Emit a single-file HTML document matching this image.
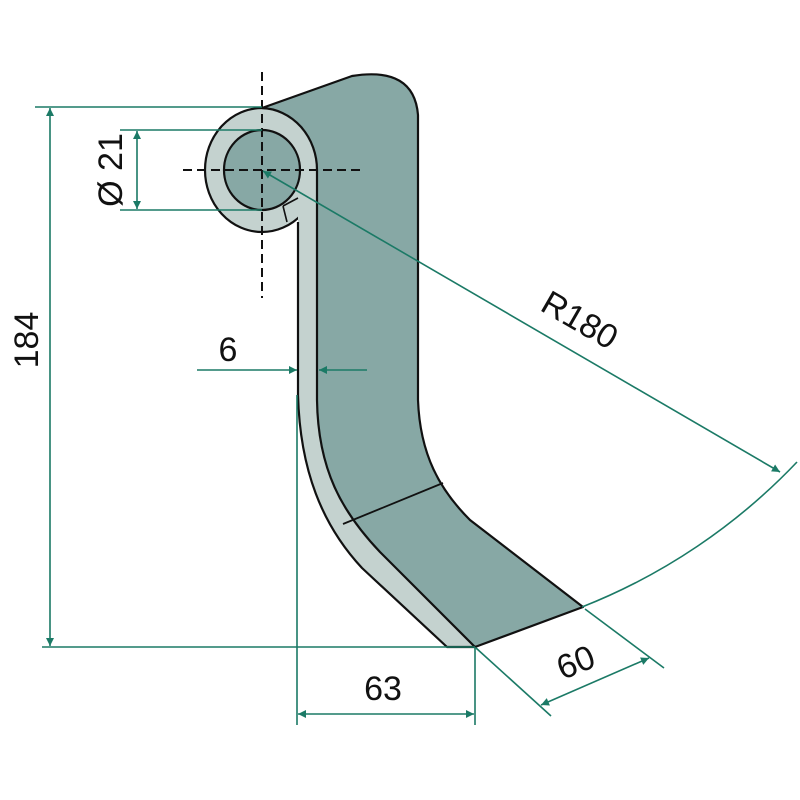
<!DOCTYPE html>
<html><head><meta charset="utf-8"><style>html,body{margin:0;padding:0;background:#fff}svg{display:block}</style></head>
<body>
<svg width="800" height="800" viewBox="0 0 800 800" xmlns="http://www.w3.org/2000/svg">
<defs>
<marker id="a" viewBox="0 0 10 10" refX="10" refY="5" markerWidth="14" markerHeight="8" markerUnits="userSpaceOnUse" orient="auto-start-reverse"><path d="M0,0 L10,5 L0,10 z" fill="#1b7a66"/></marker>
</defs>
<g stroke="#111" stroke-width="2.2" stroke-linejoin="round">
<ellipse cx="262" cy="170" rx="57" ry="62" fill="#c4d2cf"/>
<path d="M298,168 L298,395 C300,470 322,525 362,568 L447,647 L475,647 L380,552 C342,512 318,470 317,400 L317,168 Z" fill="#c4d2cf" stroke="none"/>
<path d="M298,222 L298,395 C300,470 322,525 362,568 L447,647 L475,647" fill="none"/>
<path d="M262,108 L352,76 Q414,66 418,115 L418,400 C420,455 440,490 470,520 L583,607 L475,647 L380,552 C342,512 318,470 317,400 L317,170 A57,62 0 0 0 262,108 Z" fill="#87a8a5"/>
<ellipse cx="262" cy="170" rx="38" ry="40" fill="#87a8a5"/>
<path d="M283,206 L287,222 M298,198 L283,206" fill="none" stroke-width="1.6"/>
<line x1="343" y1="524" x2="443" y2="483" stroke-width="1.8"/>
</g>
<g stroke="#111" stroke-width="2" stroke-dasharray="9,5">
<line x1="262" y1="72" x2="262" y2="298"/>
<line x1="183" y1="170" x2="360" y2="170"/>
</g>
<g stroke="#1b7a66" stroke-width="1.6" fill="none">
<line x1="35" y1="107" x2="262" y2="107"/>
<line x1="42" y1="647" x2="475" y2="647"/>
<line x1="50" y1="108" x2="50" y2="646" marker-start="url(#a)" marker-end="url(#a)"/>
<line x1="120" y1="130" x2="262" y2="130"/>
<line x1="120" y1="210" x2="262" y2="210"/>
<line x1="137" y1="131" x2="137" y2="209" marker-start="url(#a)" marker-end="url(#a)"/>
<line x1="197" y1="370" x2="297" y2="370" marker-end="url(#a)"/>
<line x1="367" y1="370" x2="319" y2="370" marker-end="url(#a)"/>
<line x1="297" y1="395" x2="297" y2="725"/>
<line x1="475" y1="647" x2="475" y2="725"/>
<line x1="298" y1="714" x2="474" y2="714" marker-start="url(#a)" marker-end="url(#a)"/>
<line x1="476" y1="648" x2="551" y2="716"/>
<line x1="585" y1="609" x2="664" y2="668"/>
<line x1="541" y1="705" x2="649" y2="658" marker-start="url(#a)" marker-end="url(#a)"/>
<line x1="263" y1="171" x2="780" y2="472" marker-start="url(#a)" marker-end="url(#a)"/>
<path d="M582,607 A600,600 0 0 0 797,462"/>
</g>
<g font-family="Liberation Sans, sans-serif" font-size="34" fill="#111">
<text x="0" y="0" transform="translate(38,340) rotate(-90)" text-anchor="middle">184</text>
<text x="0" y="0" transform="translate(122,170) rotate(-90)" text-anchor="middle">Ø 21</text>
<text x="228" y="361" text-anchor="middle">6</text>
<text x="383" y="700" text-anchor="middle">63</text>
<text x="0" y="0" transform="translate(580,673) rotate(-22)" text-anchor="middle">60</text>
<text x="0" y="0" transform="translate(574,330) rotate(30)" text-anchor="middle">R180</text>
</g>
</svg>
</body></html>
